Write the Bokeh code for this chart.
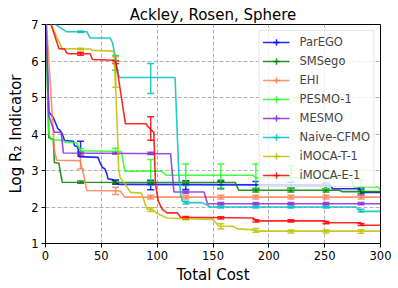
from bokeh.plotting import figure
from bokeh.models import (ColumnDataSource, Whisker, TeeHead, Legend, LegendItem,
                          FixedTicker, Range1d)
from bokeh.embed import file_html
from bokeh.resources import INLINE

# ---------------- data ----------------
names = ["ParEGO", "SMSego", "EHI", "PESMO-1", "MESMO", "Naive-CFMO", "iMOCA-T-1", "iMOCA-E-1"]
colors = ["#0000ff", "#008000", "#ff7f50", "#22ff22", "#8a2be2", "#00bfbf", "#bfbf00", "#ff0000"]

parego_x = [0, 3, 7, 9, 11, 13, 15, 17, 25, 26, 29, 30, 47, 49, 51, 53, 55, 56, 60, 62, 66, 255, 257, 281, 283, 300]
parego_y = [7.5, 4.6, 4.45, 4.3, 4.15, 4.1, 4.0, 3.82, 3.8, 3.68, 3.65, 3.38, 3.36, 3.2, 3.08, 3.05, 2.9, 2.77, 2.75, 2.68, 2.62, 2.6, 2.5, 2.5, 2.4, 2.4]

smsego_x = [0, 3, 7, 8, 12, 13, 15, 170, 173, 263, 266, 300]
smsego_y = [7.5, 3.9, 3.85, 3.22, 3.2, 3.0, 2.68, 2.67, 2.46, 2.46, 2.42, 2.42]

ehi_x = [0, 4, 8, 10, 31, 34, 37, 67, 71, 300]
ehi_y = [7.5, 5.5, 3.55, 3.28, 3.27, 2.9, 2.45, 2.44, 2.27, 2.27]

pesmo_x = [0, 3, 5, 16, 18, 28, 31, 68, 71, 104, 108, 186, 188, 274, 276, 298, 300]
pesmo_y = [7.5, 4.0, 3.85, 3.82, 3.77, 3.76, 3.54, 3.52, 2.98, 2.98, 2.87, 2.87, 2.8, 2.8, 2.55, 2.55, 2.45]

mesmo_x = [0, 3, 8, 14, 16, 112, 115, 142, 145, 300]
mesmo_y = [7.5, 4.5, 4.05, 4.05, 3.48, 3.46, 2.41, 2.41, 2.09, 2.09]

cfmo_x = [0, 9, 19, 37, 40, 58, 60, 62, 64, 66, 116, 117, 119.4, 121, 122.5, 125, 140, 145, 148, 278, 282, 300]
cfmo_y = [7.1, 7.0, 6.8, 6.8, 6.63, 6.63, 6.5, 6.2, 5.8, 5.55, 5.55, 4.8, 2.9, 2.35, 2.16, 2.12, 2.12, 2.05, 2.0, 2.0, 1.88, 1.88]

imocat_x = [0, 5, 15, 40, 42, 61, 62.5, 64, 65.6, 67, 71.6, 76, 86, 89, 91, 96, 100, 103, 109, 125, 150, 155, 168, 172, 184, 190, 300]
imocat_y = [7.5, 7.0, 6.34, 6.33, 6.29, 6.27, 5.5, 4.4, 3.0, 2.8, 2.62, 2.4, 2.38, 2.1, 1.94, 1.93, 1.82, 1.78, 1.7, 1.68, 1.66, 1.48, 1.47, 1.4, 1.38, 1.34, 1.34]

imocae_x = [0, 5, 12, 17, 19, 21, 40, 42, 61, 63, 65, 68, 71.6, 90, 92, 95, 97, 98.5, 101, 104.5, 106, 109, 118, 121, 186, 189, 250, 253, 282, 284, 300]
imocae_y = [7.5, 7.0, 6.34, 6.33, 6.22, 6.2, 6.2, 6.04, 6.02, 5.95, 5.6, 5.0, 4.28, 4.28, 4.2, 4.1, 4.05, 2.63, 2.16, 1.94, 1.9, 1.84, 1.84, 1.72, 1.7, 1.62, 1.62, 1.57, 1.57, 1.5, 1.5]

# error-bar positions, means and half-widths
err_x = [31.4, 62.8, 94.2, 125.6, 157.0, 188.4, 219.8, 251.2, 282.6]
parego_m = [3.6, 2.68, 2.6, 2.6, 2.6, 2.6, 2.6, 2.58, 2.42]
parego_e = [0.2, 0.06, 0.13, 0.12, 0.1, 0.1, 0.08, 0.08, 0.1]
smsego_m = [2.68, 2.68, 2.68, 2.68, 2.67, 2.46, 2.46, 2.46, 2.42]
smsego_e = [0.03, 0.04, 0.03, 0.04, 0.06, 0.05, 0.05, 0.05, 0.05]
ehi_m = [3.22, 2.44, 2.27, 2.27, 2.27, 2.27, 2.27, 2.27, 2.27]
ehi_e = [0.18, 0.1, 0.05, 0.05, 0.05, 0.05, 0.05, 0.05, 0.05]
pesmo_m = [3.55, 3.53, 2.95, 2.88, 2.85, 2.85, 2.82, 2.75, 2.6]
pesmo_e = [0.05, 0.08, 0.35, 0.3, 0.33, 0.33, 0.3, 0.25, 0.15]
mesmo_m = [3.48, 3.48, 3.47, 2.41, 2.09, 2.09, 2.09, 2.09, 2.09]
mesmo_e = [0.03, 0.03, 0.03, 0.03, 0.03, 0.03, 0.03, 0.03, 0.03]
cfmo_m = [6.8, 5.95, 5.52, 2.12, 2.0, 2.0, 2.0, 2.0, 1.9]
cfmo_e = [0.02, 0.2, 0.41, 0.04, 0.03, 0.03, 0.03, 0.03, 0.04]
imocat_m = [6.33, 5.7, 1.93, 1.68, 1.47, 1.36, 1.33, 1.33, 1.33]
imocat_e = [0.02, 0.42, 0.05, 0.03, 0.07, 0.05, 0.04, 0.04, 0.05]
imocae_m = [6.2, 5.97, 4.15, 1.71, 1.7, 1.62, 1.62, 1.57, 1.52]
imocae_e = [0.04, 0.04, 0.32, 0.03, 0.03, 0.03, 0.03, 0.03, 0.03]

x_ticks = [0, 50, 100, 150, 200, 250, 300]
y_ticks = [1, 2, 3, 4, 5, 6, 7]

series = [
    (parego_x, parego_y, parego_m, parego_e),
    (smsego_x, smsego_y, smsego_m, smsego_e),
    (ehi_x, ehi_y, ehi_m, ehi_e),
    (pesmo_x, pesmo_y, pesmo_m, pesmo_e),
    (mesmo_x, mesmo_y, mesmo_m, mesmo_e),
    (cfmo_x, cfmo_y, cfmo_m, cfmo_e),
    (imocat_x, imocat_y, imocat_m, imocat_e),
    (imocae_x, imocae_y, imocae_m, imocae_e),
]

FONT = "DejaVu Sans"

p = figure(width=396, height=286, x_range=Range1d(0, 300), y_range=Range1d(1, 7),
           output_backend="svg", toolbar_location=None, title="Ackley, Rosen, Sphere",
           min_border_left=45, min_border_right=16, min_border_top=24, min_border_bottom=43)

p.title.text_font = FONT
p.title.text_font_size = "15px"
p.title.text_font_style = "normal"
p.title.text_color = "black"
p.title.align = "center"
p.title.standoff = 2

p.outline_line_color = "black"
p.outline_line_width = 1
p.outline_line_alpha = 1

for ax in (p.xaxis[0], p.yaxis[0]):
    ax.axis_line_color = "black"
    ax.major_tick_line_color = "black"
    ax.major_tick_out = 4
    ax.major_tick_in = 0
    ax.minor_tick_line_color = None
    ax.major_label_text_font = FONT
    ax.major_label_text_font_size = "11.5px"
    ax.major_label_text_color = "black"
    ax.axis_label_text_font = FONT
    ax.axis_label_text_font_size = "15px"
    ax.axis_label_text_font_style = "normal"
    ax.axis_label_text_color = "black"
    ax.major_label_standoff = 3
    ax.axis_label_standoff = 3

p.xaxis.ticker = FixedTicker(ticks=x_ticks)
p.yaxis.ticker = FixedTicker(ticks=y_ticks)
p.xaxis.axis_label = "Total Cost"
p.yaxis.axis_label = "Log R\u2082 Indicator"

for g in (p.xgrid[0], p.ygrid[0]):
    g.grid_line_color = "#b0b0b0"
    g.grid_line_dash = "4 2"
    g.grid_line_width = 1
p.xgrid.ticker = FixedTicker(ticks=x_ticks)
p.ygrid.ticker = FixedTicker(ticks=y_ticks)

items = []
for name, col, (sx, sy, em, ee) in zip(names, colors, series):
    lr = p.line(sx, sy, line_color=col, line_width=1.6, line_alpha=0.85)
    src = ColumnDataSource(dict(x=err_x, m=em,
                                lower=[m - e for m, e in zip(em, ee)],
                                upper=[m + e for m, e in zip(em, ee)]))
    w = Whisker(base="x", lower="lower", upper="upper", source=src, dimension="height",
                line_color=col, line_width=1.5, line_alpha=0.85,
                upper_head=TeeHead(size=7, line_color=col, line_width=1.5, line_alpha=0.85),
                lower_head=TeeHead(size=7, line_color=col, line_width=1.5, line_alpha=0.85))
    p.add_layout(w)
    cr = p.scatter(x="x", y="m", source=src, marker="cross", size=0, line_color=col,
                   line_width=1.5, line_alpha=0.85)
    items.append(LegendItem(label=name, renderers=[lr, cr]))

legend = Legend(items=items, location="top_right", margin=6, padding=3,
                spacing=3, glyph_width=27, glyph_height=16, label_height=16,
                label_standoff=10, label_text_font=FONT, label_text_font_size="11.5px",
                border_line_color="#cccccc", border_line_width=1,
                background_fill_color="white", background_fill_alpha=0.8)
p.add_layout(legend)

open("out.html", "w").write(file_html(p, INLINE))
